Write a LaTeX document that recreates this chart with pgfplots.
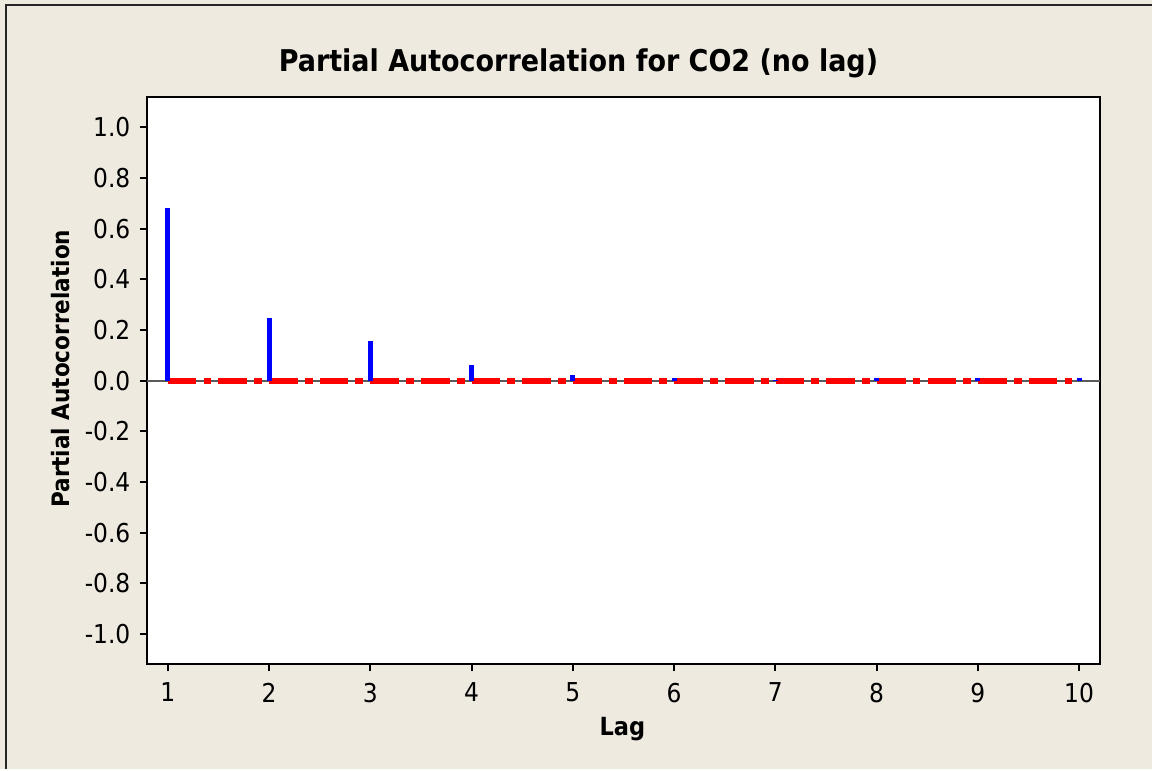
\documentclass[border=0pt]{standalone}
\usepackage{pgfplots}
\pgfplotsset{compat=1.18}
\usepackage{fontspec}
\setmainfont{DejaVu Sans Condensed}
\definecolor{bgc}{RGB}{238,234,224}
\definecolor{zline}{RGB}{90,90,90}
\begin{document}
\begin{tikzpicture}
\fill[bgc] (0pt,0pt) rectangle (1153pt,770pt);
\draw[line width=2pt, black!85] (6pt,0pt) -- (6pt,765pt) -- (1153pt,765pt);
\begin{axis}[
  at={(147pt,105pt)}, anchor=south west,
  scale only axis, width=954pt, height=568pt,
  xmin=0.793, xmax=10.207, ymin=-1.12, ymax=1.12,
  clip=false,
  axis background/.style={fill=white},
  axis line style={line width=2pt,black},
  xtick={1,2,3,4,5,6,7,8,9,10},
  xticklabels={1,2,3,4,5,6,7,8,9,10},
  ytick={-1,-0.8,-0.6,-0.4,-0.2,0,0.2,0.4,0.6,0.8,1},
  yticklabels={-1.0,-0.8,-0.6,-0.4,-0.2,0.0,0.2,0.4,0.6,0.8,1.0},
  tick pos=left, tick align=outside,
  major tick length=7pt,
  tick style={line width=2pt, black},
  ticklabel style={font=\fontsize{26}{30}\selectfont},
  xticklabel style={yshift=-8pt},
  yticklabel style={xshift=-6pt},
]
\draw[zline, line width=2pt] (axis cs:0.793,0) -- (axis cs:10.207,0);
\pgfplotsinvokeforeach{1,2,3,4,5,6,7,8,9,10}{
  \draw[black, line width=2pt] (axis cs:#1,-1.12) -- ++(0pt,-7pt);
}
\pgfplotsinvokeforeach{-1,-0.8,-0.6,-0.4,-0.2,0,0.2,0.4,0.6,0.8,1}{
  \draw[black, line width=2pt] (axis cs:0.793,#1) -- ++(-7pt,0pt);
}
\addplot[red, line width=4pt, dash pattern=on 28.5pt off 7.2pt on 7.8pt off 7.2pt] coordinates {(1,0.002) (10,0.002)};
\addplot[red, line width=4pt, dash pattern=on 28.5pt off 7.2pt on 7.8pt off 7.2pt] coordinates {(1,-0.004) (10,-0.004)};
\addplot[blue, ycomb, line width=5pt] coordinates {
(1,0.680) (2,0.246) (3,0.156) (4,0.062) (5,0.024)
(6,0.012) (7,0.003) (8,0.011) (9,0.011) (10,0.010)
};
\end{axis}
\node[anchor=base, font=\fontsize{30}{34}\selectfont\bfseries] at (579pt,698pt) {Partial Autocorrelation for CO2 (no lag)};
\node[anchor=base, font=\fontsize{25}{30}\selectfont\bfseries] at (623pt,34pt) {Lag};
\node[anchor=base, rotate=90, font=\fontsize{24}{28}\selectfont\bfseries] at (70pt,401pt) {Partial Autocorrelation};
\end{tikzpicture}
\end{document}
